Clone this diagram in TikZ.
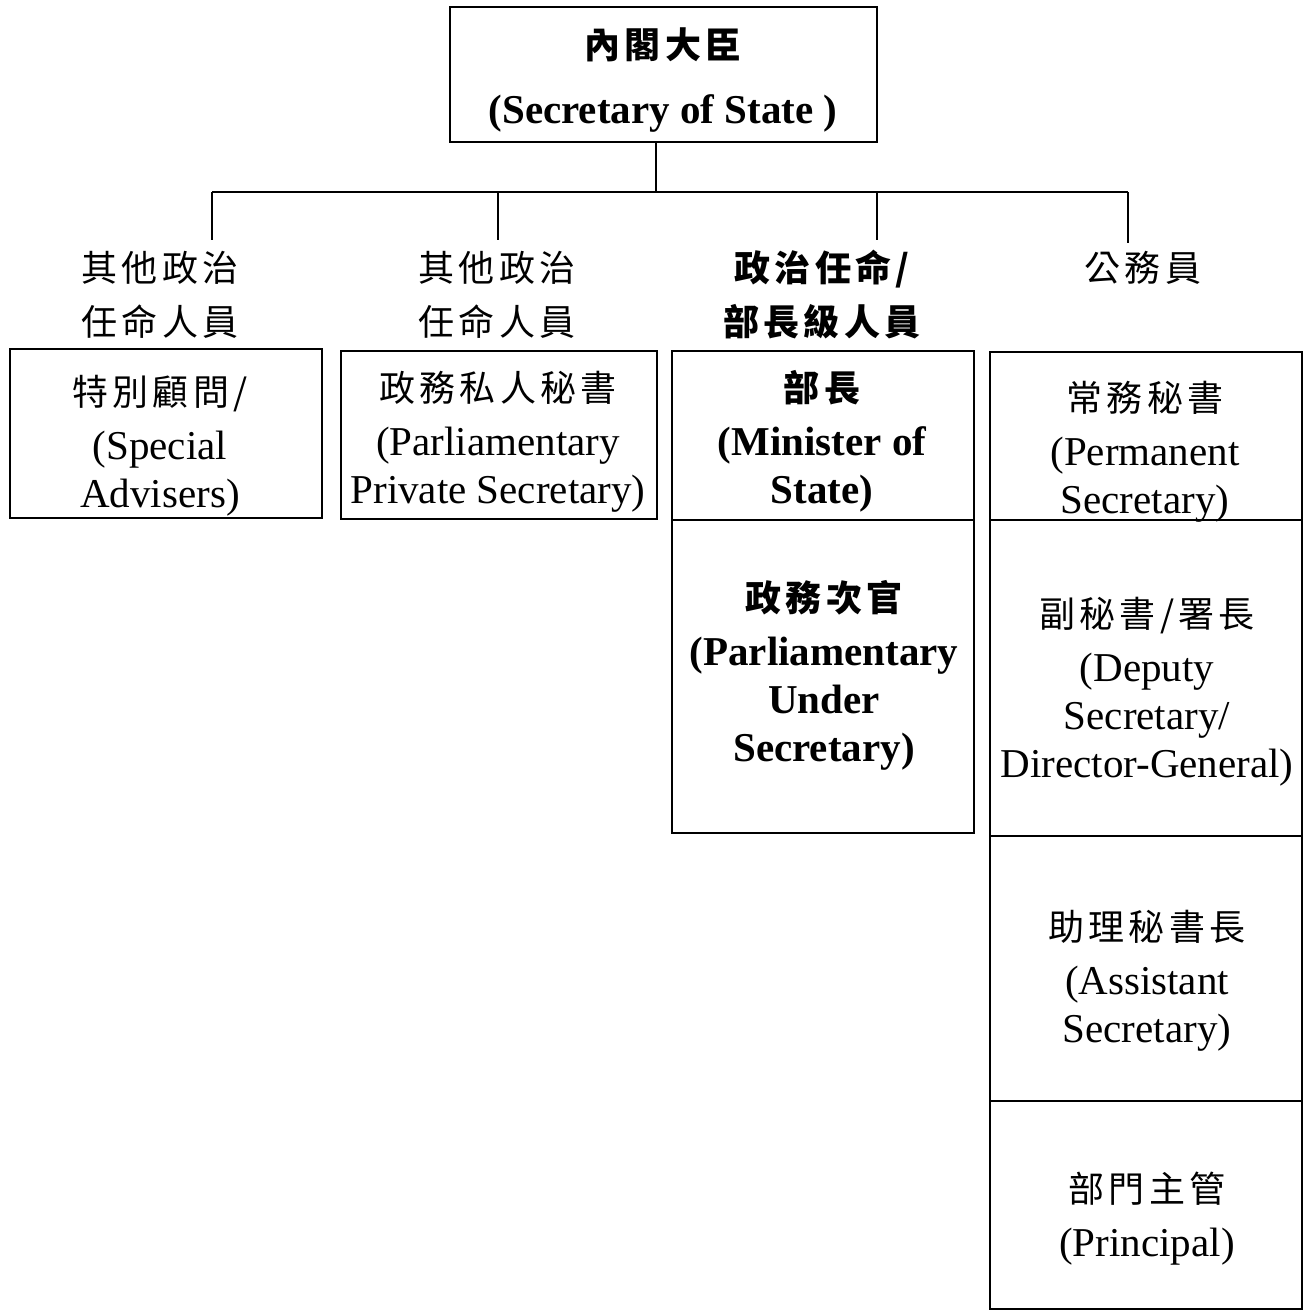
\documentclass[tikz,border=0pt]{standalone}
\usepackage{fontspec}
\setmainfont{Liberation Serif}
\newfontfamily\cjkfam[LetterSpace=12]{Noto Sans CJK TC}
\usetikzlibrary{fit}
\newcommand\zhtext[1]{{\cjkfam\fontsize{18pt}{24pt}\selectfont #1}}
\newcommand\zhbold[1]{{\cjkfam\bfseries\fontsize{18pt}{24pt}\selectfont #1}}
\begin{document}
\begin{tikzpicture}[x=0.5pt,y=-0.5pt,
  box/.style={draw,line width=1pt,inner sep=0pt},
  label/.style={align=center,inner sep=0pt,font=\fontsize{20.5pt}{24pt}\selectfont},
  boldlabel/.style={label,font=\bfseries\fontsize{20.5pt}{24pt}\selectfont},
  head/.style={align=center,inner sep=0pt,font=\fontsize{20.5pt}{27pt}\selectfont},
  conn/.style={line width=1pt}]
\fill[white] (0,0) rectangle (1309,1313);
\useasboundingbox (0,0) rectangle (1309,1313);
% boxes
\node[box,fit={(450,7) (877,142)}] (top) {};
\node[box,fit={(10,349) (322,518)}] (b1) {};
\node[box,fit={(341,351) (657,519)}] (b2) {};
\node[box,fit={(672,351) (974,520)}] (b3a) {};
\node[box,fit={(672,520) (974,833)}] (b3b) {};
\node[box,fit={(990,352) (1302,520)}] (b4a) {};
\node[box,fit={(990,520) (1302,836)}] (b4b) {};
\node[box,fit={(990,836) (1302,1101)}] (b4c) {};
\node[box,fit={(990,1101) (1302,1309)}] (b4d) {};
% texts
\node[label] (t0a) at (663,45) {\zhbold{內閣大臣}};
\node[boldlabel] (t0b) at (663,113) {(Secretary of State )};
\node[head] (h1) at (160,295) {\zhtext{其他政治}\\\zhtext{任命人員}};
\node[head] (h2) at (497,295) {\zhtext{其他政治}\\\zhtext{任命人員}};
\node[head] (h3) at (822,295) {\zhbold{政治任命/}\\\zhbold{部長級人員}};
\node[head] (h4) at (1143,268) {\zhtext{公務員}};
\node[label] (x1) at (160,446) {\zhtext{特別顧問/}\\[3pt](Special\\Advisers)};
\node[label] (x2) at (498,442) {\zhtext{政務私人秘書}\\[3pt](Parliamentary\\Private Secretary)};
\node[boldlabel] (x3a) at (822,441) {\zhbold{部長}\\[3pt](Minister of\\State)};
\node[boldlabel] (x3b) at (824,675) {\zhbold{政務次官}\\[3pt](Parliamentary\\Under\\Secretary)};
\node[label] (x4a) at (1145,452) {\zhtext{常務秘書}\\[3pt](Permanent\\Secretary)};
\node[label] (x4b) at (1147,692) {\zhtext{副秘書/署長}\\[3pt](Deputy\\Secretary/\\Director-General)};
\node[label] (x4c) at (1147,981) {\zhtext{助理秘書長}\\[3pt](Assistant\\Secretary)};
\node[label] (x4d) at (1147,1219) {\zhtext{部門主管}\\[3pt](Principal)};
% connectors
\coordinate (hub) at (656,192);
\coordinate (j1) at (212,192);
\coordinate (j2) at (498,192);
\coordinate (j3) at (877,192);
\coordinate (j4) at (1128,192);
\coordinate (e1) at (212,240);
\coordinate (e2) at (498,240);
\coordinate (e3) at (877,240);
\coordinate (e4) at (1128,243);
\draw[conn] (hub |- top.south) -- (hub);
\draw[conn] (j1) -- (j4);
\draw[conn] (j1) -- (e1);
\draw[conn] (j2) -- (e2);
\draw[conn] (j3) -- (e3);
\draw[conn] (j4) -- (e4);
\end{tikzpicture}
\end{document}
